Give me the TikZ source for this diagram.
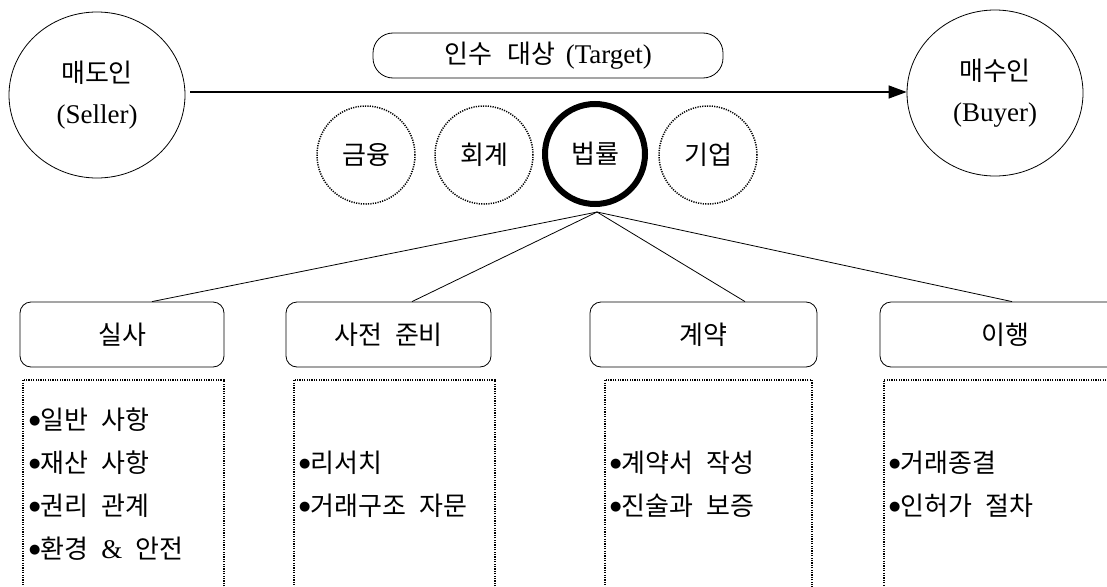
\documentclass[tikz,border=0pt]{standalone}
\usepackage{fontspec}
\setmainfont{Liberation Serif}
\newfontfamily\kr{Noto Sans CJK KR}
\newfontfamily\dv{DejaVu Sans}
\usetikzlibrary{shapes.geometric,arrows.meta,calc}
\newcommand{\lat}[1]{{\fontsize{27}{41}\selectfont #1}}
\newcommand{\bul}{\raisebox{5pt}{\dv\fontsize{13}{13}\selectfont ●}}
\tikzset{
  big/.style={font=\fontsize{26}{41}\selectfont},
  party/.style={draw, ellipse, line width=0.8pt, minimum width=176pt, minimum height=166pt, align=center, big},
  field/.style={draw, circle, dash pattern=on 1.2pt off 1.2pt, line width=1.5pt, minimum size=98pt, inner sep=0pt, big},
  keyfield/.style={draw, circle, line width=6pt, minimum size=100pt, inner sep=0pt, big},
  stage/.style={draw, rounded corners=11pt, line width=0.8pt, minimum height=65pt, inner sep=0pt, big},
  detail/.style={draw, dash pattern=on 1.2pt off 1.2pt, line width=1.6pt, anchor=north west, inner sep=0pt},
  item/.style={anchor=west, inner sep=0pt, big},
  link/.style={line width=0.8pt},
}
\begin{document}
\begin{tikzpicture}[x=1pt,y=-1pt]
\useasboundingbox (0,0) rectangle (1107,586);
\fill[white] (0,0) rectangle (1107,586);
\begin{scope}
\clip (0,0) rectangle (1107,586);
% parties
\node[party] (seller) at (97,95) {{\kr 매도인}\\\lat{(Seller)}};
\node[party] (buyer) at (995,93) {{\kr 매수인}\\\lat{(Buyer)}};
\draw[link, line width=1.3pt, -{Triangle[length=18pt,width=13pt]}] (seller.east |- 0,92) ++(5,0) -- (buyer.west |- 0,92);
% target
\node[draw, rounded corners=20pt, line width=0.8pt, minimum width=350pt, minimum height=45pt, big] (target) at (548,55.5) {{\kr 인수\hspace{0.6em}대상}\hspace{0.4em}\lat{(Target)}};
% fields
\node[field] (f1) at (366,155) {\kr 금융};
\node[field] (f2) at (484,155) {\kr 회계};
\node[keyfield] (f3) at (595,154) {\kr 법률};
\node[field] (f4) at (708,155) {\kr 기업};
\coordinate (apex) at (597,212);
% stages
\node[stage, minimum width=204pt] (s1) at (122,334.5) {\kr 실사};
\node[stage, minimum width=205pt] (s2) at (388.5,334.5) {\kr 사전\hspace{0.5em}준비};
\node[stage, minimum width=227pt] (s3) at (703.5,334.5) {\kr 계약};
\node[stage, minimum width=250pt] (s4) at (1005,334.5) {\kr 이행};
\draw[link] (apex) -- ([xshift=30pt]s1.north);
\draw[link] (apex) -- ([xshift=23.5pt]s2.north);
\draw[link] (apex) -- ([xshift=41.5pt]s3.north);
\draw[link] (apex) -- ([xshift=7pt]s4.north);
% details
\node[detail, minimum width=201pt, minimum height=260pt] (d1) at (22,379) {};
\node[detail, minimum width=201pt, minimum height=260pt] (d2) at (293,379) {};
\node[detail, minimum width=207pt, minimum height=260pt] (d3) at (604,379) {};
\node[detail, minimum width=250pt, minimum height=260pt] (d4) at (883,379) {};
\node[item] (i11) at ([xshift=7pt]d1.north west |- 0,420) {\bul{\kr 일반\hspace{0.5em}사항}};
\node[item] (i12) at ([xshift=7pt]d1.north west |- 0,463) {\bul{\kr 재산\hspace{0.5em}사항}};
\node[item] (i13) at ([xshift=7pt]d1.north west |- 0,506) {\bul{\kr 권리\hspace{0.5em}관계}};
\node[item] (i14) at ([xshift=7pt]d1.north west |- 0,549) {\bul{\kr 환경}\hspace{0.5em}\lat{\&}\hspace{0.5em}{\kr 안전}};
\node[item] (i21) at ([xshift=6pt]d2.north west |- 0,463) {\bul{\kr 리서치}};
\node[item] (i22) at ([xshift=6pt]d2.north west |- 0,506) {\bul{\kr 거래구조\hspace{0.5em}자문}};
\node[item] (i31) at ([xshift=6pt]d3.north west |- 0,463) {\bul{\kr 계약서\hspace{0.5em}작성}};
\node[item] (i32) at ([xshift=6pt]d3.north west |- 0,506) {\bul{\kr 진술과\hspace{0.5em}보증}};
\node[item] (i41) at ([xshift=6pt]d4.north west |- 0,463) {\bul{\kr 거래종결}};
\node[item] (i42) at ([xshift=6pt]d4.north west |- 0,506) {\bul{\kr 인허가\hspace{0.5em}절차}};
\end{scope}
\end{tikzpicture}
\end{document}
